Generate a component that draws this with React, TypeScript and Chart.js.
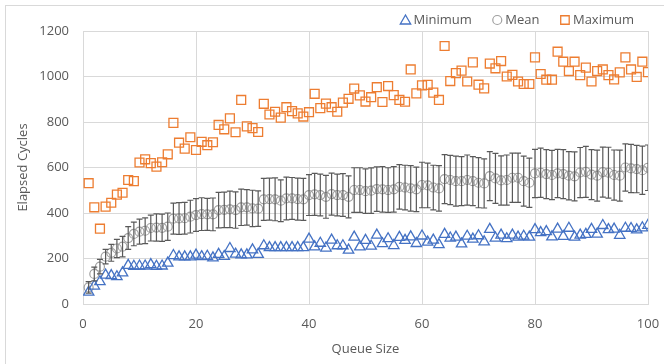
import { useEffect, useRef } from 'react';
import { Chart, registerables } from 'chart.js';
import { drawPoint } from 'chart.js/helpers';

Chart.register(...registerables);

const queueSizes = [
  1, 2, 3, 4, 5, 6, 7, 8, 9, 10,
  11, 12, 13, 14, 15, 16, 17, 18, 19, 20,
  21, 22, 23, 24, 25, 26, 27, 28, 29, 30,
  31, 32, 33, 34, 35, 36, 37, 38, 39, 40,
  41, 42, 43, 44, 45, 46, 47, 48, 49, 50,
  51, 52, 53, 54, 55, 56, 57, 58, 59, 60,
  61, 62, 63, 64, 65, 66, 67, 68, 69, 70,
  71, 72, 73, 74, 75, 76, 77, 78, 79, 80,
  81, 82, 83, 84, 85, 86, 87, 88, 89, 90,
  91, 92, 93, 94, 95, 96, 97, 98, 99, 100,
];

const minimumCycles = [
  52, 79, 98, 127, 125, 120, 137, 170, 166, 167,
  167, 173, 166, 167, 180, 213, 207, 207, 207, 215,
  208, 210, 203, 218, 209, 244, 219, 216, 216, 238,
  218, 256, 248, 248, 248, 248, 248, 248, 248, 285,
  251, 267, 246, 281, 256, 256, 237, 294, 251, 280,
  254, 303, 265, 287, 257, 293, 280, 295, 266, 299,
  272, 281, 261, 306, 290, 294, 264, 298, 285, 300,
  273, 328, 290, 303, 287, 303, 294, 298, 294, 327,
  314, 318, 295, 329, 297, 333, 294, 303, 306, 328,
  307, 345, 327, 329, 302, 333, 332, 326, 335, 346,
];

const meanCycles = [
  73, 132, 164, 208, 225, 244, 252, 290, 308, 318,
  322, 334, 336, 335, 340, 375, 376, 377, 384, 391,
  395, 394, 394, 413, 414, 416, 413, 425, 425, 420,
  419, 460, 461, 460, 454, 464, 464, 461, 460, 479,
  482, 479, 471, 483, 479, 479, 471, 501, 501, 496,
  498, 505, 504, 501, 504, 515, 512, 508, 504, 523,
  521, 512, 508, 549, 545, 540, 540, 545, 540, 533,
  530, 562, 552, 543, 545, 555, 555, 540, 533, 574,
  577, 571, 567, 574, 571, 564, 561, 578, 581, 569,
  564, 580, 577, 567, 564, 600, 596, 593, 588, 599,
];

const meanError = [
  25, 30, 32, 32, 37, 40, 45, 50, 52, 55,
  57, 57, 60, 60, 60, 68, 70, 70, 72, 72,
  72, 70, 72, 78, 78, 80, 80, 80, 78, 80,
  78, 92, 92, 94, 92, 94, 92, 92, 92, 90,
  92, 92, 94, 92, 92, 94, 92, 98, 98, 98,
  100, 98, 100, 98, 100, 98, 98, 100, 98, 100,
  98, 98, 100, 108, 108, 110, 108, 110, 108, 110,
  108, 108, 110, 108, 110, 108, 108, 110, 108, 106,
  108, 108, 108, 106, 108, 106, 108, 110, 112, 110,
  112, 110, 112, 110, 112, 104, 106, 104, 106, 100,
];

const maximumCycles = [
  531, 425, 331, 428, 445, 481, 489, 545, 540, 622,
  636, 619, 604, 623, 658, 796, 709, 683, 733, 677,
  713, 698, 711, 787, 768, 816, 755, 897, 781, 773,
  756, 880, 833, 845, 819, 865, 848, 838, 824, 843,
  924, 861, 881, 865, 845, 885, 902, 947, 917, 890,
  909, 953, 888, 958, 918, 897, 889, 1031, 926, 961,
  963, 929, 897, 1134, 980, 1015, 1026, 978, 1062, 964,
  948, 1057, 1036, 1068, 1000, 1007, 978, 967, 967, 1084,
  1011, 986, 986, 1109, 1065, 1024, 1065, 1006, 1039, 978,
  1024, 1031, 1006, 987, 1018, 1084, 1031, 998, 1065, 1019,
];

const seriesNames = ['Minimum', 'Mean', 'Maximum'];
const xTickValues = [0, 20, 40, 60, 80, 100];
const yTickValues = [0, 200, 400, 600, 800, 1000, 1200];

const FONT = '"Open Sans", "Noto Sans", sans-serif';
const TEXT = '#595959';
const GRID = '#d9d9d9';

const toPoints = (ys: number[]) => queueSizes.map((x, i) => ({ x, y: ys[i] }));

const errorBarPlugin = {
  id: 'errorBars',
  afterDatasetsDraw(chart: any) {
    const { ctx } = chart;
    const xs = chart.scales.x;
    const ys = chart.scales.y;
    const area = chart.chartArea;
    ctx.save();
    ctx.beginPath();
    ctx.rect(area.left, area.top, area.right - area.left, area.bottom - area.top);
    ctx.clip();
    ctx.strokeStyle = '#595959';
    ctx.lineWidth = 1.2;
    const cap = 3;
    queueSizes.forEach((q, i) => {
      const px = xs.getPixelForValue(q);
      const top = ys.getPixelForValue(meanCycles[i] + meanError[i]);
      const bot = ys.getPixelForValue(meanCycles[i] - meanError[i]);
      ctx.beginPath();
      ctx.moveTo(px, top);
      ctx.lineTo(px, bot);
      ctx.moveTo(px - cap, top);
      ctx.lineTo(px + cap, top);
      ctx.moveTo(px - cap, bot);
      ctx.lineTo(px + cap, bot);
      ctx.stroke();
    });
    ctx.restore();
  },
};

const legendPlugin = {
  id: 'customLegend',
  afterDraw(chart: any) {
    const { ctx } = chart;
    const datasets = chart.data.datasets;
    ctx.save();
    ctx.font = `13px ${FONT}`;
    ctx.textBaseline = 'middle';
    ctx.textAlign = 'left';
    const gapMarkerText = 8;
    const gapItems = 25.5;
    const widths = datasets.map((d: any) => ctx.measureText(d.label).width);
    let total = 0;
    widths.forEach((w: number, i: number) => {
      total += gapMarkerText + w + (i < widths.length - 1 ? gapItems : 0);
    });
    const rightEdge = chart.chartArea.right - 14;
    let cx = rightEdge - total;
    const cy = 20;
    datasets.forEach((d: any, i: number) => {
      ctx.strokeStyle = d.pointBorderColor;
      ctx.fillStyle = 'rgba(255,255,255,1)';
      ctx.lineWidth = d.pointBorderWidth;
      drawPoint(ctx, { pointStyle: d.pointStyle, radius: d.legendRadius, borderWidth: d.pointBorderWidth, rotation: 0 }, cx, cy + (d.pointStyle === 'triangle' ? 1 : 0));
      ctx.fillStyle = TEXT;
      ctx.fillText(d.label, cx + gapMarkerText, cy);
      cx += gapMarkerText + widths[i] + gapItems;
    });
    ctx.restore();
  },
};

export default function App() {
  const canvasRef = useRef<HTMLCanvasElement | null>(null);

  useEffect(() => {
    if (!canvasRef.current) return;
    const chart = new Chart(canvasRef.current, {
      type: 'scatter',
      data: {
        datasets: [
          {
            label: seriesNames[0],
            data: toPoints(minimumCycles),
            pointStyle: 'triangle',
            pointRadius: 6,
            pointBorderWidth: 1.3,
            pointBorderColor: '#4472C4',
            pointBackgroundColor: 'rgba(0,0,0,0)',
            legendRadius: 6,
          } as any,
          {
            label: seriesNames[1],
            data: toPoints(meanCycles),
            pointStyle: 'circle',
            pointRadius: 4.5,
            pointBorderWidth: 1.2,
            pointBorderColor: '#a0a0a0',
            pointBackgroundColor: 'rgba(0,0,0,0)',
            legendRadius: 4.5,
          } as any,
          {
            label: seriesNames[2],
            data: toPoints(maximumCycles),
            pointStyle: 'rect',
            pointRadius: 6.3,
            pointBorderWidth: 1.3,
            pointBorderColor: '#ED7D31',
            pointBackgroundColor: 'rgba(0,0,0,0)',
            legendRadius: 6,
          } as any,
        ],
      },
      options: {
        animation: false,
        responsive: false,
        devicePixelRatio: 1,
        layout: { padding: { top: 31, right: 16, bottom: 0, left: 0 } },
        plugins: {
          legend: { display: false },
          tooltip: { enabled: false },
        },
        scales: {
          x: {
            type: 'linear',
            min: 0,
            max: 100,
            afterBuildTicks: (s: any) => { s.ticks = xTickValues.map((v) => ({ value: v })); },
            afterFit: (s: any) => { s.height = 60; },
            grid: { color: GRID, lineWidth: 1, drawTicks: true, tickLength: 12, tickColor: 'rgba(0,0,0,0)' },
            border: { color: GRID, width: 1 },
            ticks: { color: TEXT, font: { family: FONT, size: 13 }, padding: 0, maxRotation: 0, callback: (v: any) => String(v) },
            title: { display: true, text: 'Queue Size', color: TEXT, font: { family: FONT, size: 13 }, padding: { top: 0, bottom: 7 } },
          },
          y: {
            type: 'linear',
            min: 0,
            max: 1200,
            afterBuildTicks: (s: any) => { s.ticks = yTickValues.map((v) => ({ value: v })); },
            afterFit: (s: any) => { s.width = 83; },
            grid: { color: GRID, lineWidth: 1, drawTicks: false },
            border: { color: GRID, width: 1 },
            ticks: { color: TEXT, font: { family: FONT, size: 13 }, padding: 14, callback: (v: any) => String(v) },
            title: { display: true, text: 'Elapsed Cycles', color: TEXT, font: { family: FONT, size: 13 }, padding: { top: 15, bottom: 0 } },
          },
        },
      },
      plugins: [errorBarPlugin, legendPlugin],
    });
    return () => chart.destroy();
  }, []);

  return (
    <div style={{ position: 'fixed', left: 0, top: 0, width: 664, height: 364, overflow: 'hidden', background: '#fff' }}>
      <div style={{ position: 'absolute', left: 5, top: 5, width: 720, height: 420, border: '1px solid #d9d9d9', boxSizing: 'border-box' }} />
      <canvas ref={canvasRef} width={664} height={364} style={{ position: 'absolute', left: 0, top: 0, width: 664, height: 364 }} />
    </div>
  );
}
